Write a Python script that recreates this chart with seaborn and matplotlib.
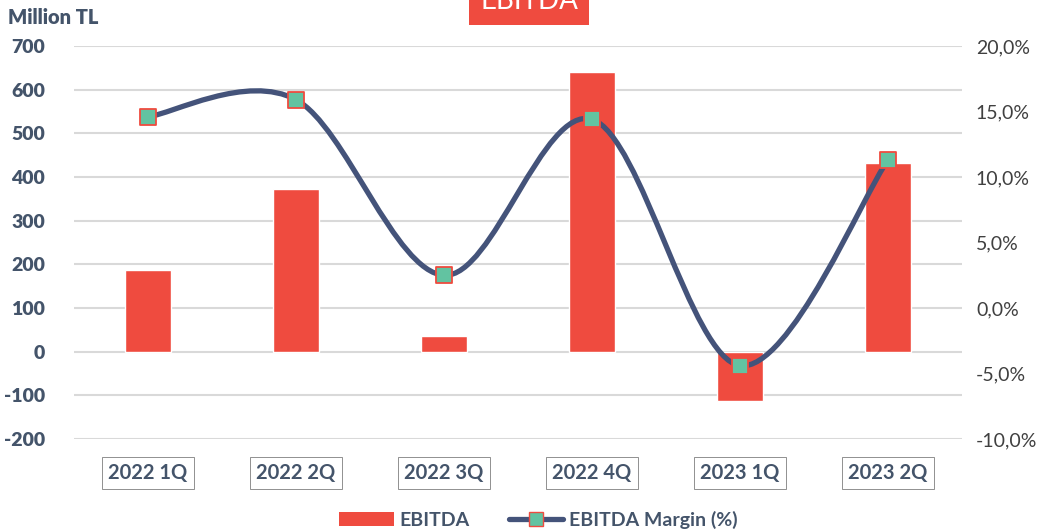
import numpy as np
import pandas as pd
import matplotlib
matplotlib.use("Agg")
import matplotlib.pyplot as plt
import seaborn as sns
from matplotlib.patches import Patch
from matplotlib.lines import Line2D
from matplotlib.path import Path
from matplotlib.patches import PathPatch

quarters = ["2022 1Q", "2022 2Q", "2022 3Q", "2022 4Q", "2023 1Q", "2023 2Q"]
ebitda = [188, 372, 35, 640, -112, 432]
margin = [14.6, 15.9, 2.5, 14.4, -4.4, 11.3]
left_ticks = [-200, -100, 0, 100, 200, 300, 400, 500, 600, 700]
right_ticks = [-10, -5, 0, 5, 10, 15, 20]

BAR = "#EF4B3F"
LINE = "#44537A"
MARK = "#62C3A1"
TXT = "#44546A"

sns.set_theme(style="white")
plt.rcParams['font.family'] = ['Lato', 'DejaVu Sans']

fig = plt.figure(figsize=(10.56, 5.32), dpi=100)
ax = fig.add_axes([74/1056, (532-439)/532, (962-74)/1056, 393/532])

df = pd.DataFrame({"q": quarters, "v": ebitda})
sns.barplot(data=df, x="q", y="v", color=BAR, saturation=1, width=0.31, ax=ax, zorder=2)
ax.set_ylim(-200, 700)
ax.set_xlim(-0.5, 5.5)
ax.set_yticks(left_ticks)
ax.set_yticklabels([str(t) for t in left_ticks], fontweight="heavy", color=TXT, fontsize=14)
ax.yaxis.grid(True, color="#D9D9D9", linewidth=1.5, zorder=0)
ax.set_axisbelow(True)
for s in ax.spines.values():
    s.set_visible(False)
ax.set_xlabel("")
ax.set_ylabel("")
ax.tick_params(axis="y", length=0, pad=21)
ax.tick_params(axis="x", length=0, pad=17)
ax.set_xticks(range(len(quarters)))
ax.set_xticklabels(quarters, fontweight="bold", color=TXT, fontsize=14.5,
                   family=['Liberation Sans Narrow', 'Lato'])
for lab in ax.get_xticklabels():
    lab.set_bbox(dict(boxstyle="square,pad=0.3", facecolor="white", edgecolor="#7F7F7F", linewidth=0.6))

ax2 = ax.twinx()
ax2.set_ylim(-10, 20)
ax2.set_yticks(right_ticks)
ax2.set_yticklabels([f"{t:.1f}%".replace(".", ",") for t in right_ticks], color="#404040", fontsize=14)
ax2.tick_params(axis="y", length=0, pad=10)
for s in ax2.spines.values():
    s.set_visible(False)
ax2.grid(False)

# smoothed line (Excel-style Bezier through the data points)
xs = np.arange(len(margin), dtype=float)
ys = np.array(margin, dtype=float)
verts = [(xs[0], ys[0])]
codes = [Path.MOVETO]
n = len(xs)
for i in range(n - 1):
    p0 = np.array([xs[max(i-1, 0)], ys[max(i-1, 0)]])
    p1 = np.array([xs[i], ys[i]])
    p2 = np.array([xs[i+1], ys[i+1]])
    p3 = np.array([xs[min(i+2, n-1)], ys[min(i+2, n-1)]])
    c1 = p1 + (p2 - p0) / 6
    c2 = p2 - (p3 - p1) / 6
    verts += [tuple(c1), tuple(c2), tuple(p2)]
    codes += [Path.CURVE4] * 3
ax2.add_patch(PathPatch(Path(verts, codes), facecolor="none", edgecolor=LINE, linewidth=3.8, zorder=3, capstyle="round"))
sns.scatterplot(x=xs, y=ys, marker="s", s=130, color=MARK, edgecolor=BAR, linewidth=1.3, ax=ax2, zorder=4)
ax2.set_xlim(-0.5, 5.5)

fig.text(8/1056, 1 - 18/532, "Million TL", fontweight="heavy", color=TXT, fontsize=14.5, va="center", ha="left")
fig.text(529/1056, 1 - 1/532, "EBITDA", color="white", fontsize=20, ha="center", va="center",
         bbox=dict(boxstyle="square,pad=0.4", facecolor=BAR, edgecolor="none"))

handles = [Patch(facecolor=BAR, edgecolor="none"),
           Line2D([0], [0], color=LINE, linewidth=3.8, marker="s", markersize=10,
                  markerfacecolor=MARK, markeredgecolor=BAR)]
leg = fig.legend(handles, ["EBITDA", "EBITDA Margin (%)"], loc="center", bbox_to_anchor=(0.51, 1 - 520/532),
                 ncol=2, frameon=False, handlelength=2.8, columnspacing=2.0, handletextpad=0.3,
                 prop={"weight": "bold", "size": 14})
for t in leg.get_texts():
    t.set_color(TXT)

fig.savefig("out.png", dpi=100)
